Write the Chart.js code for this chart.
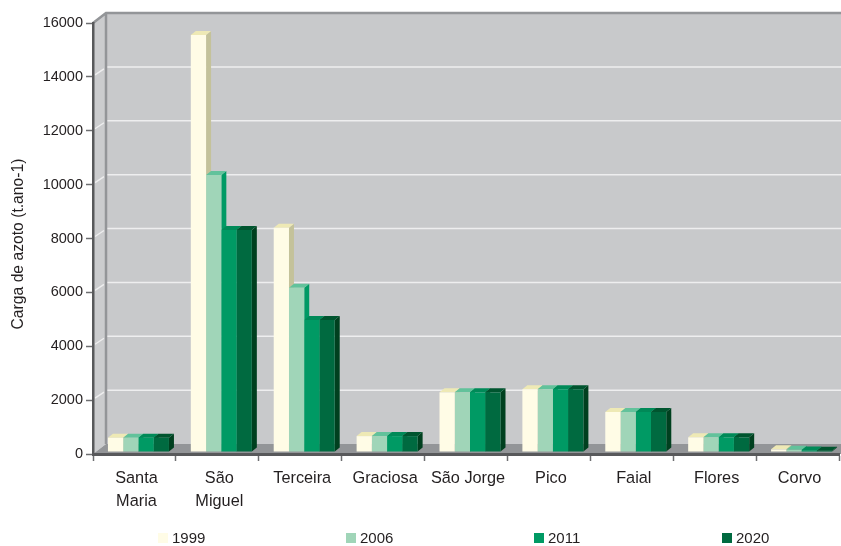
<!DOCTYPE html>
<html>
<head>
<meta charset="utf-8">
<style>
  html, body { margin: 0; padding: 0; background: #fff; overflow: hidden; }
  canvas { display: block; }
</style>
<script src="https://cdn.jsdelivr.net/npm/chart.js@4"></script>
</head>
<body>
<canvas id="chart" width="841" height="546"></canvas>
<script>
// Carga de azoto por ilha
const categories = [['Santa', 'Maria'], ['São', 'Miguel'], 'Terceira', 'Graciosa', 'São Jorge', 'Pico', 'Faial', 'Flores', 'Corvo'];
const years = ['1999', '2006', '2011', '2020'];
const values1999 = [530, 15480, 8325, 590, 2215, 2330, 1485, 545, 100];
const values2006 = [530, 10280, 6100, 590, 2215, 2330, 1485, 545, 80];
const values2011 = [530, 8240, 4900, 590, 2215, 2330, 1485, 545, 60];
const values2020 = [530, 8240, 4900, 590, 2215, 2330, 1485, 545, 50];
const yTicks = [0, 2000, 4000, 6000, 8000, 10000, 12000, 14000, 16000];
const yTitle = 'Carga de azoto (t.ano-1)';

const frontColors = ['#fffce6', '#a0d5b8', '#009a64', '#006a40'];
const topColors = ['#eee9b5', '#62c29b', '#008a58', '#00552f'];
const sideColors = ['#c4c29a', '#009a64', '#007a4c', '#00401f'];

// depth of the fake 3D box
const wallDX = 13, wallDY = 10;
const barDX = 5, barDY = 4;
const barShiftX = 4, barShiftY = -2;

// legend row
const legendStart = 158, legendStep = 188, legendY = 538, swatch = 10;

const box3d = {
    id: 'box3d',
    beforeDraw(chart) {
        const { ctx, chartArea: a, scales: { y } } = chart;
        const right = chart.width;
        ctx.save();
        // side wall
        ctx.fillStyle = '#cbccce';
        ctx.beginPath();
        ctx.moveTo(a.left, a.top);
        ctx.lineTo(a.left + wallDX, a.top - wallDY);
        ctx.lineTo(a.left + wallDX, a.bottom - wallDY);
        ctx.lineTo(a.left, a.bottom);
        ctx.closePath();
        ctx.fill();
        // back wall
        ctx.fillStyle = '#c8c9cb';
        ctx.fillRect(a.left + wallDX, a.top - wallDY, right - a.left - wallDX, a.bottom - a.top);
        // floor
        ctx.fillStyle = '#939598';
        ctx.beginPath();
        ctx.moveTo(a.left, a.bottom);
        ctx.lineTo(a.left + wallDX, a.bottom - wallDY);
        ctx.lineTo(right, a.bottom - wallDY);
        ctx.lineTo(right, a.bottom);
        ctx.closePath();
        ctx.fill();
        // grid lines on the walls
        ctx.strokeStyle = '#eeeeef';
        ctx.lineWidth = 1.5;
        yTicks.slice(1, -1).forEach(v => {
            const py = y.getPixelForValue(v);
            ctx.beginPath();
            ctx.moveTo(a.left + 2, py - 2);
            ctx.lineTo(a.left + wallDX - 2, py - wallDY + 2);
            ctx.moveTo(a.left + wallDX, py - wallDY);
            ctx.lineTo(right, py - wallDY);
            ctx.stroke();
        });
        // wall edges
        ctx.strokeStyle = '#939598';
        ctx.lineWidth = 2.5;
        ctx.beginPath();
        ctx.moveTo(a.left, a.top);
        ctx.lineTo(a.left + wallDX, a.top - wallDY);
        ctx.lineTo(right, a.top - wallDY);
        ctx.moveTo(a.left + wallDX, a.top - wallDY);
        ctx.lineTo(a.left + wallDX, a.bottom - wallDY);
        ctx.stroke();
        ctx.restore();
    },
    beforeDatasetsDraw(chart) {
        const ctx = chart.ctx;
        ctx.save();
        ctx.translate(barShiftX, barShiftY);
        // tops and sides left to right, the library paints the fronts over them
        years.forEach((year, i) => {
            chart.getDatasetMeta(i).data.forEach(bar => {
                const { x, y, base, width } = bar.getProps(['x', 'y', 'base', 'width'], true);
                const l = x - width / 2, r = x + width / 2;
                ctx.fillStyle = sideColors[i];
                ctx.beginPath();
                ctx.moveTo(r, y);
                ctx.lineTo(r + barDX, y - barDY);
                ctx.lineTo(r + barDX, base - barDY);
                ctx.lineTo(r, base);
                ctx.closePath();
                ctx.fill();
                ctx.fillStyle = topColors[i];
                ctx.beginPath();
                ctx.moveTo(l, y);
                ctx.lineTo(l + barDX, y - barDY);
                ctx.lineTo(r + barDX, y - barDY);
                ctx.lineTo(r, y);
                ctx.closePath();
                ctx.fill();
            });
        });
    },
    afterDatasetsDraw(chart) {
        chart.ctx.restore();
    },
    afterDraw(chart) {
        const ctx = chart.ctx;
        ctx.save();
        ctx.font = '15px "Liberation Sans", sans-serif';
        ctx.textBaseline = 'middle';
        years.forEach((year, i) => {
            const x = legendStart + i * legendStep;
            ctx.fillStyle = frontColors[i];
            ctx.fillRect(x, legendY - swatch / 2, swatch, swatch);
            ctx.fillStyle = '#231f20';
            ctx.fillText(year, x + swatch + 4, legendY + 1);
        });
        // axis title sits a little below the middle of the axis
        ctx.font = '15.7px "Liberation Sans", sans-serif';
        ctx.textAlign = 'center';
        ctx.translate(19, 244);
        ctx.rotate(-Math.PI / 2);
        ctx.fillText(yTitle, 0, 0);
        ctx.restore();
    }
};

const seriesValues = [values1999, values2006, values2011, values2020];

new Chart(document.getElementById('chart'), {
    type: 'bar',
    data: {
        labels: categories,
        datasets: years.map((year, i) => ({
            label: year,
            data: seriesValues[i],
            backgroundColor: frontColors[i],
            borderWidth: 0,
            clip: false,
            barPercentage: 1,
            categoryPercentage: 0.736
        }))
    },
    options: {
        responsive: false,
        animation: false,
        layout: { padding: { top: 23, right: 2, left: 0, bottom: 34 } },
        scales: {
            x: {
                grid: { drawOnChartArea: false, tickLength: 7, tickColor: '#6d6e70', offset: true, tickWidth: 1.5 },
                border: { color: '#58595b', width: 3 },
                afterFit(scale) { scale.height = 58; },
                ticks: {
                    color: '#231f20',
                    maxRotation: 0,
                    autoSkip: false,
                    labelOffset: 2,
                    padding: 6,
                    font: { family: '"Liberation Sans", sans-serif', size: 16.3, lineHeight: 1.43 }
                }
            },
            y: {
                min: 0,
                max: 16000,
                afterBuildTicks(scale) { scale.ticks = yTicks.map(v => ({ value: v })); },
                afterFit(scale) { scale.width = 93; },
                grid: { drawOnChartArea: false, tickLength: 7, tickColor: '#6d6e70', tickWidth: 1.5 },
                border: { color: '#58595b', width: 2.5 },
                ticks: {
                    color: '#231f20',
                    padding: 3,
                    callback: v => String(v),
                    font: { family: '"Liberation Sans", sans-serif', size: 14.5 }
                }
            }
        },
        plugins: {
            title: { display: false },
            tooltip: { enabled: false },
            legend: { display: false }
        }
    },
    plugins: [box3d]
});
</script>
</body>
</html>
